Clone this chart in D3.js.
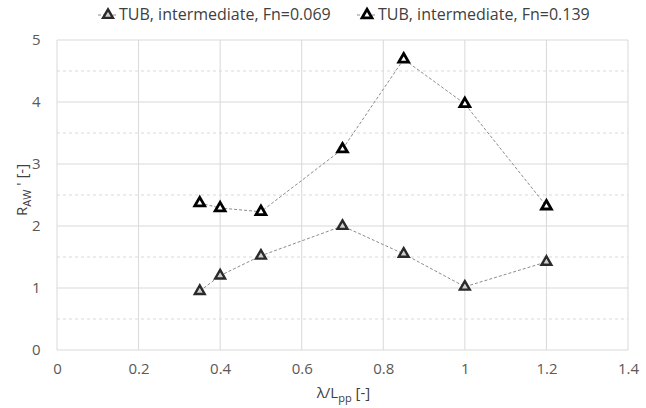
<!DOCTYPE html>
<html><head><meta charset="utf-8">
<script src="https://cdn.jsdelivr.net/npm/d3@7"></script>
<style>body{margin:0;background:#fff;} text{font-family:"Open Sans","Liberation Sans",sans-serif;}</style>
</head><body>
<svg id="c" width="646" height="408"></svg>
<script>
const xVals1 = [0.35, 0.4, 0.5, 0.7, 0.85, 1.0, 1.2];
const yVals1 = [0.95, 1.20, 1.52, 2.00, 1.55, 1.02, 1.42];
const xVals2 = [0.35, 0.4, 0.5, 0.7, 0.85, 1.0, 1.2];
const yVals2 = [2.37, 2.29, 2.23, 3.24, 4.69, 3.97, 2.32];
const seriesNames = ["TUB, intermediate, Fn=0.069", "TUB, intermediate, Fn=0.139"];
const xTicks = [0, 0.2, 0.4, 0.6, 0.8, 1, 1.2, 1.4];
const yTicks = [0, 1, 2, 3, 4, 5];
const yMinor = [0.5, 1.5, 2.5, 3.5, 4.5];

const svg = d3.select("#c");
const L = 57, R = 628, T = 40, B = 350;
const x = d3.scaleLinear().domain([0, 1.4]).range([L, R]);
const y = d3.scaleLinear().domain([0, 5]).range([B, T]);
const grid = "#d9d9d9";

svg.append("g").selectAll("line").data(yMinor).join("line")
  .attr("x1", L).attr("x2", R).attr("y1", d => y(d)).attr("y2", d => y(d))
  .attr("stroke", grid).attr("stroke-dasharray", "3,3").attr("stroke-width", 1);
svg.append("g").selectAll("line").data(yTicks).join("line")
  .attr("x1", L).attr("x2", R).attr("y1", d => y(d)).attr("y2", d => y(d))
  .attr("stroke", grid).attr("stroke-width", 1);
svg.append("g").selectAll("line").data(xTicks).join("line")
  .attr("x1", d => x(d)).attr("x2", d => x(d)).attr("y1", T).attr("y2", B)
  .attr("stroke", grid).attr("stroke-width", 1);

const xAxis = svg.append("g").attr("transform", `translate(0,${B + 8})`)
  .call(d3.axisBottom(x).tickValues(xTicks).tickFormat(d3.format("~g")).tickSize(0));
xAxis.select(".domain").remove();
xAxis.selectAll("text").attr("font-size", 15).attr("fill", "#595959").attr("dy", "0.85em");
const yAxis = svg.append("g").attr("transform", `translate(${L - 12},0)`)
  .call(d3.axisLeft(y).tickValues(yTicks).tickFormat(d3.format("~g")).tickSize(0));
yAxis.select(".domain").remove();
yAxis.selectAll("text").attr("font-size", 15).attr("fill", "#595959").attr("dx", "-0.1em");

const xt = svg.append("text").attr("x", (L + R) / 2 + 1).attr("y", 398).attr("text-anchor", "middle")
  .attr("font-size", 15).attr("fill", "#404040");
xt.append("tspan").text("λ/L");
xt.append("tspan").attr("font-size", 11).attr("dy", 4).text("pp");
xt.append("tspan").attr("dy", -4).text(" [-]");
const yt = svg.append("text").attr("transform", `translate(27,${(T + B) / 2 - 5}) rotate(-90)`)
  .attr("text-anchor", "middle").attr("font-size", 15).attr("fill", "#404040");
yt.append("tspan").text("R");
yt.append("tspan").attr("font-size", 11).attr("dy", 4).text("AW");
yt.append("tspan").attr("dy", -4).text(" ' [-]");

const tri = d3.symbol().type(d3.symbolTriangle).size(42);
function series(xs, ys, stroke, fill, sw) {
  const pts = xs.map((d, i) => [d, ys[i]]);
  svg.append("path").datum(pts)
    .attr("d", d3.line().x(d => x(d[0])).y(d => y(d[1])))
    .attr("fill", "none").attr("stroke", "#8c8c8c").attr("stroke-width", 1).attr("stroke-dasharray", "3,2");
  svg.append("g").selectAll("path").data(pts).join("path")
    .attr("d", tri).attr("transform", d => `translate(${x(d[0])},${y(d[1])})`)
    .attr("fill", fill).attr("stroke", stroke).attr("stroke-width", sw).attr("stroke-linejoin", "miter");
}
series(xVals1, yVals1, "#2a2a2a", "#d0d0d0", 2.4);
series(xVals2, yVals2, "#000", "#fff", 2.8);

const leg = [{x: 108, name: seriesNames[0], stroke: "#2a2a2a", fill: "#d0d0d0", sw: 2.4}, {x: 367, name: seriesNames[1], stroke: "#000", fill: "#fff", sw: 2.8}];
leg.forEach(l => {
  const g = svg.append("g").attr("transform", `translate(${l.x},15)`);
  g.append("line").attr("x1", -10).attr("x2", 10).attr("stroke", "#8c8c8c").attr("stroke-dasharray", "3,2");
  g.append("path").attr("d", tri).attr("fill", l.fill).attr("stroke", l.stroke).attr("stroke-width", l.sw);
  g.append("text").attr("x", 11).attr("y", 5).attr("font-size", 16).attr("fill", "#404040").text(l.name);
});
</script>
</body></html>
